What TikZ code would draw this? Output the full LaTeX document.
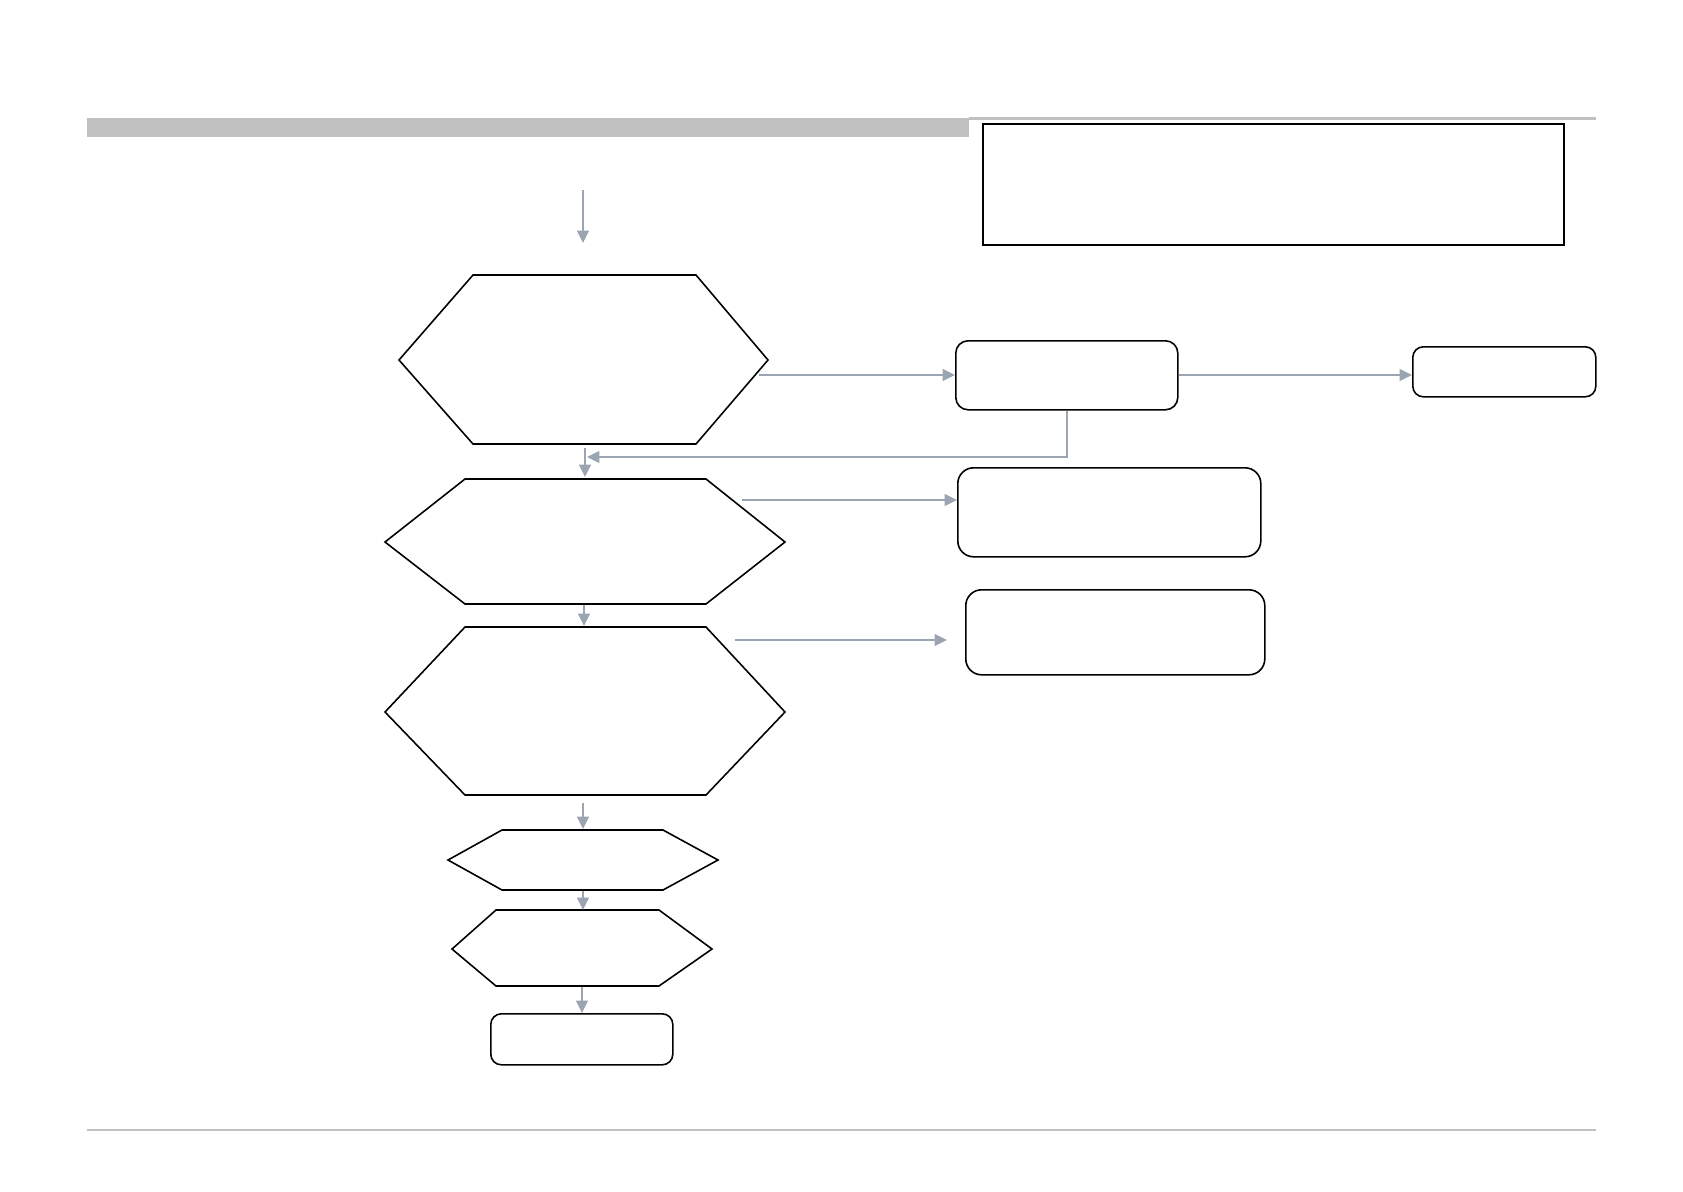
\documentclass[tikz,border=0pt]{standalone}
\usetikzlibrary{arrows.meta}
\definecolor{arrowgray}{HTML}{9AA5B1}
\definecolor{bargray}{HTML}{C0C0C0}
\begin{document}
\begin{tikzpicture}[x=0.02cm,y=-0.02cm,
  conn/.style={draw=arrowgray,line width=1.25pt,-{Triangle[length=7pt,width=6.5pt]}},
  hexline/.style={draw=black,line width=0.9pt,line join=miter},
  rbox/.style={draw=black,line width=0.9pt,rounded corners=#1},
  rbox/.default=6pt]
\useasboundingbox (0,0) rectangle (1683,1191);
% header / footer
\fill[bargray] (87,118) rectangle (969,137);
\draw[bargray,line width=1.2pt] (969,118.5) -- (1596,118.5);
\draw[bargray,line width=0.8pt] (87,1130) -- (1596,1130);
% top-right frame
\node[draw=black,line width=1.4pt,minimum width=581*0.02cm,minimum height=121*0.02cm,inner sep=0pt,anchor=north west] (frame) at (982,123) {};
% hexagons
\draw[hexline] (473,275) -- (696,275) -- (768,360) -- (696,444) -- (473,444) -- (399,360) -- cycle;
\draw[hexline] (465,479) -- (706,479) -- (785,542) -- (706,604) -- (465,604) -- (385,542) -- cycle;
\draw[hexline] (465,627) -- (706,627) -- (785,712) -- (706,795) -- (465,795) -- (385,712) -- cycle;
\draw[hexline] (502,830) -- (663,830) -- (718,860) -- (663,890) -- (502,890) -- (448,860) -- cycle;
\draw[hexline] (496,910) -- (659,910) -- (712,949) -- (659,986) -- (496,986) -- (452,949) -- cycle;
% rounded boxes
\node[rbox=7pt,minimum width=222*0.02cm,minimum height=69*0.02cm,anchor=north west,inner sep=0pt] (boxA) at (955,340) {};
\node[rbox=6pt,minimum width=183*0.02cm,minimum height=50*0.02cm,anchor=north west,inner sep=0pt] (boxB) at (1412,346) {};
\node[rbox=9pt,minimum width=303*0.02cm,minimum height=89*0.02cm,anchor=north west,inner sep=0pt] (boxC) at (957,467) {};
\node[rbox=9pt,minimum width=299*0.02cm,minimum height=85*0.02cm,anchor=north west,inner sep=0pt] (boxD) at (965,589) {};
\node[rbox=6pt,minimum width=182*0.02cm,minimum height=51*0.02cm,anchor=north west,inner sep=0pt] (boxE) at (490,1013) {};
% connector coordinates
\coordinate (s0) at (583,190);
\coordinate (h1top) at (583,243);
\coordinate (h1r) at (759,375);
\coordinate (h1b) at (585,448);
\coordinate (h2top) at (585,477);
\coordinate (h2r) at (742,500);
\coordinate (h2b) at (584,605);
\coordinate (h3top) at (584,626);
\coordinate (h3r) at (735,640);
\coordinate (h3b) at (583,803);
\coordinate (h4top) at (583,829);
\coordinate (h4b) at (583,891);
\coordinate (h5top) at (583,910);
\coordinate (h5b) at (582,987);
\coordinate (fbend) at (1067,457);
\coordinate (fend) at (587,457);
% connectors
\draw[conn] (s0) -- (h1top);
\draw[conn] (h1r) -- (boxA.west |- h1r);
\draw[conn] (boxA.east |- 0,375) -- (boxB.west |- 0,375);
\draw[conn] (boxA.south -| fbend) -- (fbend) -- (fend);
\draw[conn] (h1b) -- (h2top);
\draw[conn] (h2r) -- (boxC.west |- h2r);
\draw[conn] (h2b) -- (h3top);
\draw[conn] (h3r) -- ([xshift=-18*0.02cm]boxD.west |- h3r);
\draw[conn] (h3b) -- (h4top);
\draw[conn] (h4b) -- (h5top);
\draw[conn] (h5b) -- (boxE.north -| h5b);
\end{tikzpicture}
\end{document}
